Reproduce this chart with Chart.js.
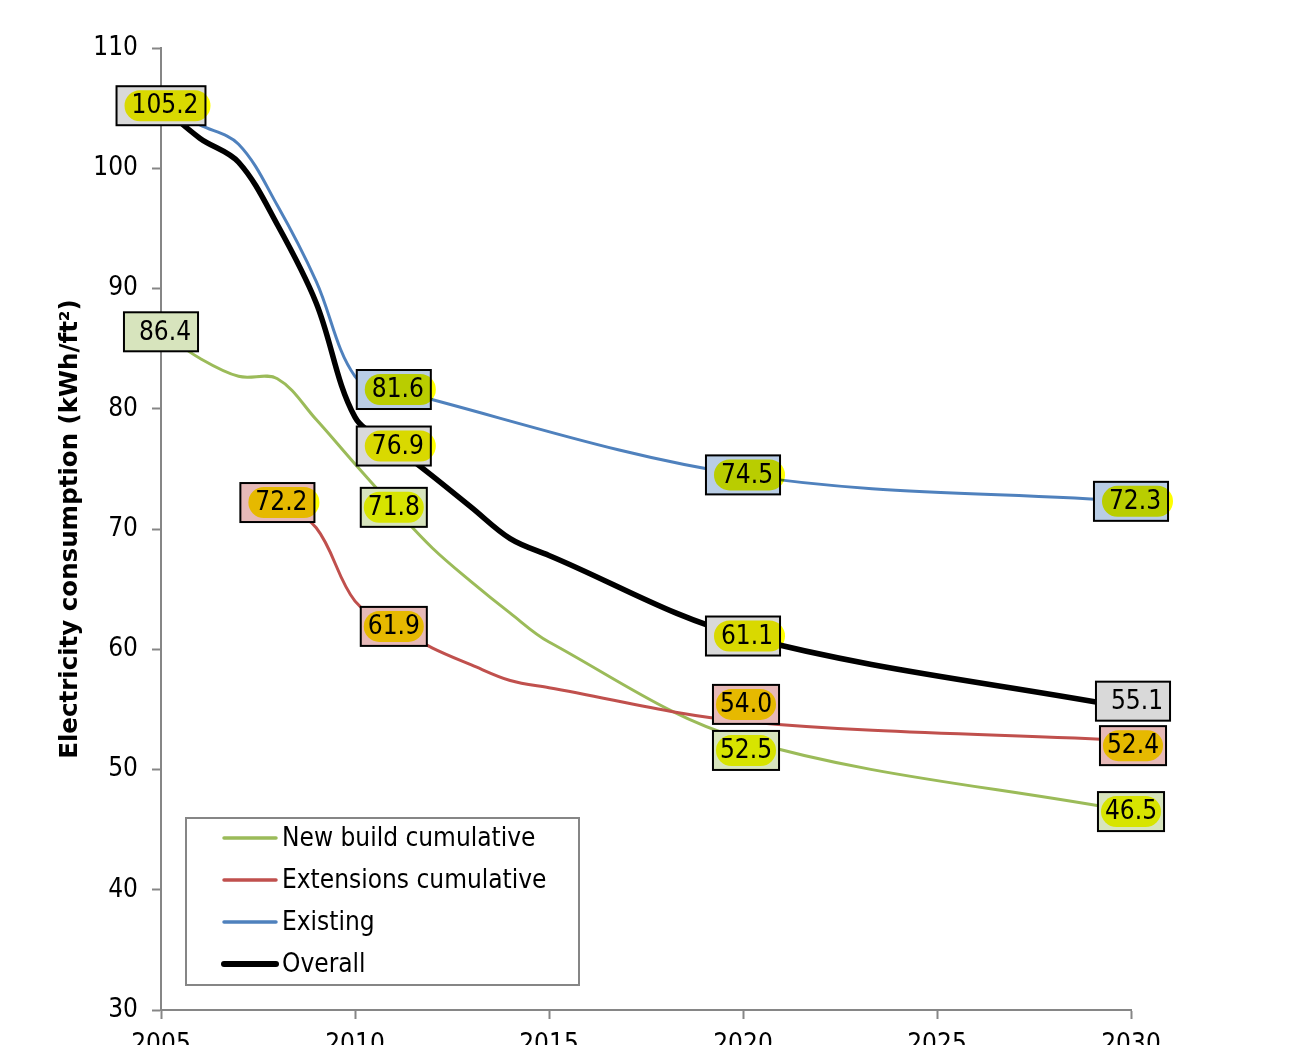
<!DOCTYPE html>
<html>
<head>
<meta charset="utf-8">
<script src="https://cdn.jsdelivr.net/npm/chart.js@4.4.1/dist/chart.umd.min.js"></script>
<style>
  html, body { margin: 0; padding: 0; background: #fff; overflow: hidden; }
  #wrap { position: relative; width: 1312px; height: 1080px; }
</style>
</head>
<body>
<div id="wrap"><canvas id="chart" width="1312" height="1080"></canvas></div>
<script>
// consumption per series, kWh/ft2
const yearsNewBuild = [2005, 2006, 2007, 2008, 2009, 2010, 2011, 2012, 2013, 2014, 2015, 2020, 2030];
const newBuild = [86.4, 84.2, 82.7, 82.5, 79.1, 75.4, 71.8, 68.4, 65.6, 63.0, 60.6, 52.5, 46.5];

const yearsExtensions = [2008, 2009, 2010, 2011, 2012, 2013, 2014, 2015, 2020, 2030];
const extensions = [72.2, 70.1, 64.0, 61.9, 60.1, 58.7, 57.4, 56.8, 54.0, 52.4];

const yearsExisting = [2005, 2006, 2007, 2008, 2009, 2010, 2011, 2020, 2030];
const existing = [105.2, 103.6, 102.0, 96.9, 90.6, 82.7, 81.6, 74.5, 72.3];

const yearsOverall = [2005, 2006, 2007, 2008, 2009, 2010, 2011, 2012, 2013, 2014, 2015, 2020, 2030];
const overall = [105.2, 102.5, 100.5, 95.3, 88.8, 79.3, 76.9, 74.4, 71.8, 69.2, 67.8, 61.1, 55.1];

const xTicks = [2005, 2010, 2015, 2020, 2025, 2030];
const yTicks = [30, 40, 50, 60, 70, 80, 90, 100, 110];

const FONT = '"DejaVu Sans Condensed", "DejaVu Sans", sans-serif';
const TITLE_FONT = '"DejaVu Sans", sans-serif';
const AXIS_GREY = '#868686';

function pairs(xs, ys) {
  return xs.map((x, i) => ({ x: x, y: ys[i] }));
}

// which points get a value box; dx/dy nudge the box off the point
const valueLabels = [
  { ds: 3, year: 2005, pill: 'wide' },
  { ds: 0, year: 2005, pill: null },
  { ds: 1, year: 2008, pill: 'wide' },
  { ds: 2, year: 2011, pill: 'wide' },
  { ds: 3, year: 2011, pill: 'wide' },
  { ds: 0, year: 2011, pill: 'inner' },
  { ds: 1, year: 2011, pill: 'inner' },
  { ds: 2, year: 2020, pill: 'wide' },
  { ds: 3, year: 2020, pill: 'wide' },
  { ds: 1, year: 2020, pill: 'inner', dx: 3, dy: -17 },
  { ds: 0, year: 2020, pill: 'inner', dx: 3, dy: 11 },
  { ds: 2, year: 2030, pill: 'wide' },
  { ds: 3, year: 2030, pill: null, dx: 2, dy: -7 },
  { ds: 1, year: 2030, pill: 'inner', dx: 2, dy: 5 },
  { ds: 0, year: 2030, pill: 'inner' }
];

function roundRect(ctx, x, y, w, h, r) {
  ctx.beginPath();
  ctx.moveTo(x + r, y);
  ctx.lineTo(x + w - r, y);
  ctx.arc(x + w - r, y + r, r, -Math.PI / 2, Math.PI / 2);
  ctx.lineTo(x + r, y + h);
  ctx.arc(x + r, y + r, r, Math.PI / 2, Math.PI * 1.5);
  ctx.closePath();
}

const valueBoxes = {
  id: 'valueBoxes',
  afterDatasetsDraw(chart) {
    const ctx = chart.ctx;
    ctx.save();
    ctx.font = '26px ' + FONT;
    ctx.textBaseline = 'middle';
    ctx.textAlign = 'center';
    valueLabels.forEach(l => {
      const ds = chart.data.datasets[l.ds];
      const i = ds.data.findIndex(p => p.x === l.year);
      const pt = chart.getDatasetMeta(l.ds).data[i];
      const text = ds.data[i].y.toFixed(1);
      const tw = ctx.measureText(text).width;
      const cx = pt.x + (l.dx || 0);
      const cy = pt.y + (l.dy || 0);
      const h = 39;
      const wide = l.pill === 'wide' || l.pill === null;
      const w = wide ? tw + 22 : tw + 14;
      const tx = wide ? cx + 4 : cx;
      const bx = cx - w / 2, by = cy - h / 2;

      ctx.fillStyle = ds.boxColor;
      ctx.fillRect(bx, by, w, h);

      if (l.pill) {
        const pl = l.pill === 'wide' ? tx - tw / 2 - 7 : bx + 3;
        const pr = l.pill === 'wide' ? tx + tw / 2 + 12 : bx + w - 3;
        ctx.save();
        ctx.globalCompositeOperation = 'multiply';
        ctx.fillStyle = '#ffff00';
        roundRect(ctx, pl, by + 4, pr - pl, h - 8, (h - 8) / 2);
        ctx.fill();
        ctx.restore();
      }

      ctx.lineWidth = 2;
      ctx.strokeStyle = '#000';
      ctx.strokeRect(bx, by, w, h);

      ctx.fillStyle = '#000';
      ctx.fillText(text, tx, cy + 1);
    });
    ctx.restore();
  }
};

// legend box sitting inside the plot, bottom left
const boxedLegend = {
  id: 'boxedLegend',
  afterDraw(chart) {
    const ctx = chart.ctx;
    const left = 186, top = 818, w = 393, h = 167;
    ctx.save();
    ctx.fillStyle = '#fff';
    ctx.fillRect(left, top, w, h);
    ctx.strokeStyle = AXIS_GREY;
    ctx.lineWidth = 2;
    ctx.strokeRect(left, top, w, h);
    ctx.font = '26px ' + FONT;
    ctx.textBaseline = 'middle';
    ctx.textAlign = 'left';
    chart.data.datasets.forEach((ds, i) => {
      const y = top + 20 + i * 42;
      ctx.strokeStyle = ds.borderColor;
      ctx.lineWidth = ds.borderWidth > 4 ? 6 : 3.5;
      ctx.lineCap = 'round';
      ctx.beginPath();
      ctx.moveTo(224, y);
      ctx.lineTo(276, y);
      ctx.stroke();
      ctx.fillStyle = '#000';
      ctx.fillText(ds.label, 282, y + 1);
    });
    ctx.restore();
  }
};

const lineStyle = { pointRadius: 0, pointHoverRadius: 0, tension: 0.35, fill: false,
  borderJoinStyle: 'round', borderCapStyle: 'round' };

new Chart(document.getElementById('chart').getContext('2d'), {
  type: 'line',
  data: {
    datasets: [
      Object.assign({ label: 'New build cumulative', data: pairs(yearsNewBuild, newBuild),
        borderColor: '#9bbb59', borderWidth: 3, boxColor: '#d7e4bd', order: 3 }, lineStyle),
      Object.assign({ label: 'Extensions cumulative', data: pairs(yearsExtensions, extensions),
        borderColor: '#c0504d', borderWidth: 3, boxColor: '#e6b9b8', order: 2 }, lineStyle),
      Object.assign({ label: 'Existing', data: pairs(yearsExisting, existing),
        borderColor: '#4f81bd', borderWidth: 3, boxColor: '#b9cde5', order: 1 }, lineStyle),
      Object.assign({ label: 'Overall', data: pairs(yearsOverall, overall),
        borderColor: '#000000', borderWidth: 5.5, boxColor: '#d9d9d9', order: 0 }, lineStyle)
    ]
  },
  options: {
    responsive: false,
    animation: false,
    devicePixelRatio: 1,
    layout: { padding: { left: 0, top: 48, right: 181, bottom: 0 } },
    plugins: {
      legend: { display: false },
      tooltip: { enabled: false }
    },
    scales: {
      x: {
        type: 'linear',
        min: 2005,
        max: 2030,
        afterBuildTicks: s => { s.ticks = xTicks.map(v => ({ value: v })); },
        afterFit: s => { s.height = 70; },
        ticks: {
          callback: v => String(v),
          color: '#000',
          font: { family: FONT, size: 26 },
          padding: 11,
          maxRotation: 0,
          autoSkip: false
        },
        grid: { drawOnChartArea: false, drawTicks: true, tickLength: 9, tickColor: AXIS_GREY, tickWidth: 2 },
        border: { display: true, color: AXIS_GREY, width: 2 }
      },
      y: {
        type: 'linear',
        min: 30,
        max: 110,
        afterBuildTicks: s => { s.ticks = yTicks.map(v => ({ value: v })); },
        afterFit: s => { s.width = 161; },
        ticks: {
          color: '#000',
          font: { family: FONT, size: 26 },
          padding: 14
        },
        grid: { drawOnChartArea: false, drawTicks: true, tickLength: 9, tickColor: AXIS_GREY, tickWidth: 2 },
        border: { display: true, color: AXIS_GREY, width: 2 },
        title: {
          display: true,
          text: 'Electricity consumption (kWh/ft²)',
          color: '#000',
          font: { family: TITLE_FONT, size: 24.5, weight: 'bold' },
          padding: { top: 56, bottom: 0 }
        }
      }
    }
  },
  plugins: [valueBoxes, boxedLegend]
});
</script>
</body>
</html>
